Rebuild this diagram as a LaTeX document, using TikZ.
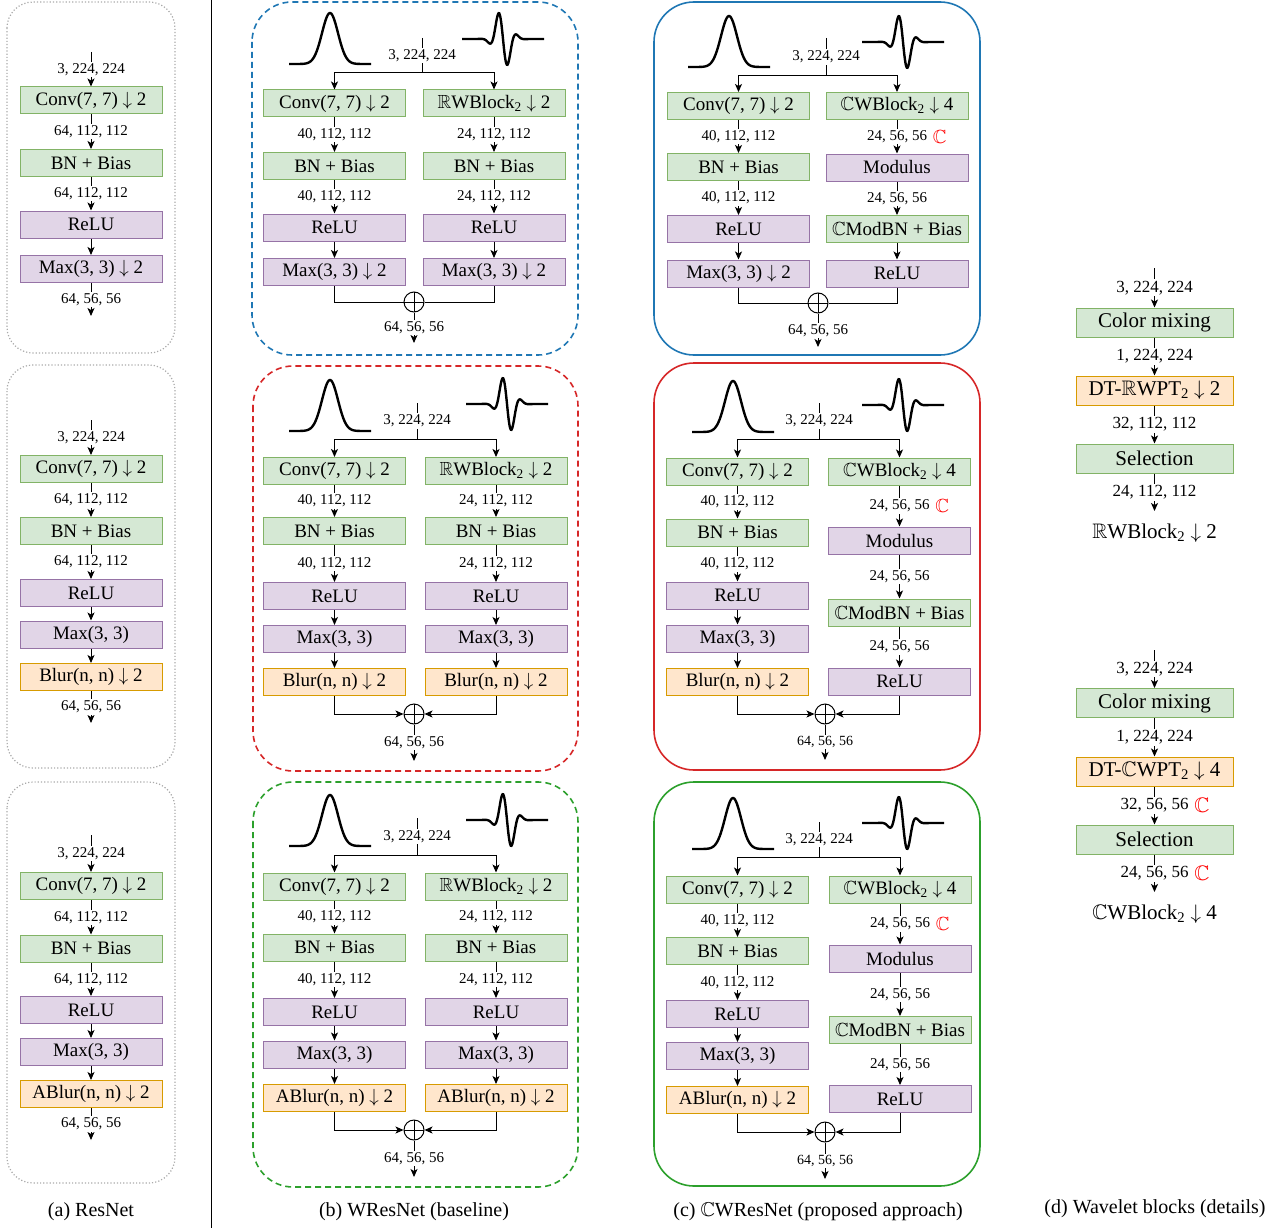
\documentclass[tikz,border=0pt]{standalone}
\usepackage{amssymb}
\usepackage{fontspec}
\setmainfont{Liberation Serif}
\usetikzlibrary{arrows.meta}
\DeclareFontFamily{U}{msb}{}
\DeclareFontShape{U}{msb}{m}{n}{<-> msbm10}{}
\DeclareFontFamily{OMS}{cmsy}{\skewchar\font48 }
\DeclareFontShape{OMS}{cmsy}{m}{n}{<-> cmsy10}{}
\newcommand\fsz[1]{\fontsize{#1}{#1}\selectfont}
\definecolor{gF}{HTML}{D5E8D4}\definecolor{gB}{HTML}{82B366}
\definecolor{pF}{HTML}{E1D5E7}\definecolor{pB}{HTML}{9673A6}
\definecolor{oF}{HTML}{FFE6CC}\definecolor{oB}{HTML}{D79B00}
\definecolor{pblue}{HTML}{1F77B4}\definecolor{pred}{HTML}{D62728}
\definecolor{pgreen}{HTML}{2CA02C}\definecolor{pgray}{HTML}{AAAAAA}
\newcommand\gaus[2]{\draw[curve] plot[domain=-41:41,samples=90,smooth] ({#1+\x},{#2-51*exp(-(\x*\x)/128)});}
\newcommand\wav[2]{\draw[curve] plot[domain=-41:41,samples=140,smooth] ({#1+\x},{#2+32*exp(-(\x*\x)/98)*sin(18*\x)});}
\newcommand\dn{$\downarrow$}
\newcommand\CC{$\mathbb{C}$}
\newcommand\RR{$\mathbb{R}$}
\tikzset{
 bx/.style={draw, line width=1pt, inner sep=0pt, minimum width=142, minimum height=27, font=\fsz{19}},
 gb/.style={bx, draw=gB, fill=gF},
 pb/.style={bx, draw=pB, fill=pF},
 ob/.style={bx, draw=oB, fill=oF},
 db/.style={minimum width=157, minimum height=29, font=\fsz{21}},
 lbl/.style={fill=white, inner sep=1.5pt, font=\fsz{15}},
 lbls/.style={lbl, font=\fsz{14}},
 lbld/.style={lbl, font=\fsz{17}},
 ln/.style={line width=1pt},
 arr/.style={ln, -{Stealth[length=8pt,width=7pt,inset=2pt]}},
 sumc/.style={circle, draw, ln, minimum size=20, inner sep=0pt, path picture={\draw[ln] (path picture bounding box.north) -- (path picture bounding box.south) (path picture bounding box.west) -- (path picture bounding box.east);}},
 cc/.style={text=red, font=\fsz{19}},
 ccd/.style={text=red, font=\fsz{21}},
 curve/.style={line width=2.4pt},
 pan/.style={line width=1.6pt, rounded corners=40},
 pana/.style={line width=1.2pt, rounded corners=26, draw=pgray, dotted},
 captxt/.style={font=\fsz{20}},
}
\begin{document}
\begin{tikzpicture}[x=1pt,y=-1pt]
\useasboundingbox (0,0) rectangle (1284,1228);
\draw[ln] (211,0) -- (211,1228);

% ================= (a) =================
\draw[pana] (7,2) rectangle (175,353);
\node[gb] (a1c) at (91,100.5) {Conv(7, 7) \dn{} 2};
\node[gb] (a1b) at (91,163) {BN + Bias};
\node[pb] (a1r) at (91,224.5) {ReLU};
\node[pb] (a1m) at (91,269) {Max(3, 3) \dn{} 2};
\coordinate (a1i) at (91,52); \coordinate (a1o) at (91,316);
\draw[arr] (a1i) -- node[lbl]{3, 224, 224} (a1c);
\draw[arr] (a1c) -- node[lbl]{64, 112, 112} (a1b);
\draw[arr] (a1b) -- node[lbl]{64, 112, 112} (a1r);
\draw[arr] (a1r) -- (a1m);
\draw[arr] (a1m) -- node[lbl]{64, 56, 56} (a1o);

\draw[pana] (7,365) rectangle (175,768);
\node[gb] (a2c) at (91,469) {Conv(7, 7) \dn{} 2};
\node[gb] (a2b) at (91,531) {BN + Bias};
\node[pb] (a2r) at (91,593) {ReLU};
\node[pb] (a2m) at (91,634.5) {Max(3, 3)};
\node[ob] (a2u) at (91,677) {Blur(n, n) \dn{} 2};
\coordinate (a2i) at (91,420); \coordinate (a2o) at (91,723);
\draw[arr] (a2i) -- node[lbl]{3, 224, 224} (a2c);
\draw[arr] (a2c) -- node[lbl]{64, 112, 112} (a2b);
\draw[arr] (a2b) -- node[lbl]{64, 112, 112} (a2r);
\draw[arr] (a2r) -- (a2m);
\draw[arr] (a2m) -- (a2u);
\draw[arr] (a2u) -- node[lbl]{64, 56, 56} (a2o);

\draw[pana] (7,782) rectangle (175,1183);
\node[gb] (a3c) at (91,886) {Conv(7, 7) \dn{} 2};
\node[gb] (a3b) at (91,948.5) {BN + Bias};
\node[pb] (a3r) at (91,1010) {ReLU};
\node[pb] (a3m) at (91,1052) {Max(3, 3)};
\node[ob] (a3u) at (91,1094) {ABlur(n, n) \dn{} 2};
\coordinate (a3i) at (91,835); \coordinate (a3o) at (91,1140);
\draw[arr] (a3i) -- node[lbl]{3, 224, 224} (a3c);
\draw[arr] (a3c) -- node[lbl]{64, 112, 112} (a3b);
\draw[arr] (a3b) -- node[lbl]{64, 112, 112} (a3r);
\draw[arr] (a3r) -- (a3m);
\draw[arr] (a3m) -- (a3u);
\draw[arr] (a3u) -- node[lbl]{64, 56, 56} (a3o);

% ================= (b) =================
% b1
\draw[pan, draw=pblue, dashed, dash pattern=on 6pt off 4pt] (252,2) rectangle (578,355);
\gaus{330}{64}
\wav{503}{39}
\node[gb] (b1c) at (334.5,103.5) {Conv(7, 7) \dn{} 2};
\node[gb] (b1b) at (334.5,166) {BN + Bias};
\node[pb] (b1r) at (334.5,227.5) {ReLU};
\node[pb] (b1m) at (334.5,272) {Max(3, 3) \dn{} 2};
\node[gb] (b1w) at (494,103.5) {\RR WBlock\textsubscript{2} \dn{} 2};
\node[gb] (b1wb) at (494,166) {BN + Bias};
\node[pb] (b1wr) at (494,227.5) {ReLU};
\node[pb] (b1wm) at (494,272) {Max(3, 3) \dn{} 2};
\node[sumc] (b1s) at (414,302) {};
\coordinate (b1i) at (422,38); \coordinate (b1br) at (422,73); \coordinate (b1o) at (414,343);
\draw[ln] (b1i) -- node[lbl]{3, 224, 224} (b1br);
\draw[arr] (b1br) -| (b1c.north);
\draw[arr] (b1br) -| (b1w.north);
\draw[arr] (b1c) -- node[lbl]{40, 112, 112} (b1b);
\draw[arr] (b1b) -- node[lbl]{40, 112, 112} (b1r);
\draw[arr] (b1r) -- (b1m);
\draw[arr] (b1w) -- node[lbl]{24, 112, 112} (b1wb);
\draw[arr] (b1wb) -- node[lbl]{24, 112, 112} (b1wr);
\draw[arr] (b1wr) -- (b1wm);
\draw[ln] (b1m.south) |- (b1s.west);
\draw[ln] (b1wm.south) |- (b1s.east);
\draw[arr] (b1s) -- node[lbl]{64, 56, 56} (b1o);

% b2
\draw[pan, draw=pred, dashed, dash pattern=on 6pt off 4pt] (253,366) rectangle (578,771);
\gaus{330}{431}
\wav{507}{404}
\node[gb] (b2c) at (334.5,471) {Conv(7, 7) \dn{} 2};
\node[gb] (b2b) at (334.5,531) {BN + Bias};
\node[pb] (b2r) at (334.5,596) {ReLU};
\node[pb] (b2m) at (334.5,639) {Max(3, 3)};
\node[ob] (b2u) at (334.5,682) {Blur(n, n) \dn{} 2};
\node[gb] (b2w) at (496,471) {\RR WBlock\textsubscript{2} \dn{} 2};
\node[gb] (b2wb) at (496,531) {BN + Bias};
\node[pb] (b2wr) at (496,596) {ReLU};
\node[pb] (b2wm) at (496,639) {Max(3, 3)};
\node[ob] (b2wu) at (496,682) {Blur(n, n) \dn{} 2};
\node[sumc] (b2s) at (414,714) {};
\coordinate (b2i) at (417,403); \coordinate (b2br) at (417,439); \coordinate (b2o) at (414,761);
\draw[ln] (b2i) -- node[lbl]{3, 224, 224} (b2br);
\draw[arr] (b2br) -| (b2c.north);
\draw[arr] (b2br) -| (b2w.north);
\draw[arr] (b2c) -- node[lbl]{40, 112, 112} (b2b);
\draw[arr] (b2b) -- node[lbl]{40, 112, 112} (b2r);
\draw[arr] (b2r) -- (b2m);
\draw[arr] (b2m) -- (b2u);
\draw[arr] (b2w) -- node[lbl]{24, 112, 112} (b2wb);
\draw[arr] (b2wb) -- node[lbl]{24, 112, 112} (b2wr);
\draw[arr] (b2wr) -- (b2wm);
\draw[arr] (b2wm) -- (b2wu);
\draw[arr] (b2u.south) |- (b2s.west);
\draw[arr] (b2wu.south) |- (b2s.east);
\draw[arr] (b2s) -- node[lbl]{64, 56, 56} (b2o);

% b3
\draw[pan, draw=pgreen, dashed, dash pattern=on 6pt off 4pt] (253,782) rectangle (578,1187);
\gaus{330}{846}
\wav{507}{820}
\node[gb] (b3c) at (334.5,886.5) {Conv(7, 7) \dn{} 2};
\node[gb] (b3b) at (334.5,947.5) {BN + Bias};
\node[pb] (b3r) at (334.5,1012) {ReLU};
\node[pb] (b3m) at (334.5,1054.5) {Max(3, 3)};
\node[ob] (b3u) at (334.5,1098) {ABlur(n, n) \dn{} 2};
\node[gb] (b3w) at (496,886.5) {\RR WBlock\textsubscript{2} \dn{} 2};
\node[gb] (b3wb) at (496,947.5) {BN + Bias};
\node[pb] (b3wr) at (496,1012) {ReLU};
\node[pb] (b3wm) at (496,1054.5) {Max(3, 3)};
\node[ob] (b3wu) at (496,1098) {ABlur(n, n) \dn{} 2};
\node[sumc] (b3s) at (414,1130) {};
\coordinate (b3i) at (417,818); \coordinate (b3br) at (417,855); \coordinate (b3o) at (414,1177);
\draw[ln] (b3i) -- node[lbl]{3, 224, 224} (b3br);
\draw[arr] (b3br) -| (b3c.north);
\draw[arr] (b3br) -| (b3w.north);
\draw[arr] (b3c) -- node[lbl]{40, 112, 112} (b3b);
\draw[arr] (b3b) -- node[lbl]{40, 112, 112} (b3r);
\draw[arr] (b3r) -- (b3m);
\draw[arr] (b3m) -- (b3u);
\draw[arr] (b3w) -- node[lbl]{24, 112, 112} (b3wb);
\draw[arr] (b3wb) -- node[lbl]{24, 112, 112} (b3wr);
\draw[arr] (b3wr) -- (b3wm);
\draw[arr] (b3wm) -- (b3wu);
\draw[arr] (b3u.south) |- (b3s.west);
\draw[arr] (b3wu.south) |- (b3s.east);
\draw[arr] (b3s) -- node[lbl]{64, 56, 56} (b3o);

% ================= (c) =================
% c1
\draw[pan, draw=pblue] (654,2) rectangle (980,355);
\gaus{729}{67}
\wav{903}{42}
\node[gb] (c1c) at (738.5,106) {Conv(7, 7) \dn{} 2};
\node[gb] (c1b) at (738.5,167) {BN + Bias};
\node[pb] (c1r) at (738.5,229) {ReLU};
\node[pb] (c1m) at (738.5,273.5) {Max(3, 3) \dn{} 2};
\node[gb] (c1w) at (897,106) {\CC WBlock\textsubscript{2} \dn{} 4};
\node[pb] (c1wd) at (897,167.5) {Modulus};
\node[gb] (c1wb) at (897,229) {\CC ModBN + Bias};
\node[pb] (c1wr) at (897,273.5) {ReLU};
\node[sumc] (c1s) at (818,303) {};
\coordinate (c1i) at (826,38); \coordinate (c1br) at (826,76); \coordinate (c1o) at (818,347);
\draw[ln] (c1i) -- node[lbl]{3, 224, 224} (c1br);
\draw[arr] (c1br) -| (c1c.north);
\draw[arr] (c1br) -| (c1w.north);
\draw[arr] (c1c) -- node[lbl]{40, 112, 112} (c1b);
\draw[arr] (c1b) -- node[lbl]{40, 112, 112} (c1r);
\draw[arr] (c1r) -- (c1m);
\draw[arr] (c1w) -- node[lbl, label={[cc]right:\CC}]{24, 56, 56} (c1wd);
\draw[arr] (c1wd) -- node[lbl]{24, 56, 56} (c1wb);
\draw[arr] (c1wb) -- (c1wr);
\draw[ln] (c1m.south) |- (c1s.west);
\draw[ln] (c1wr.south) |- (c1s.east);
\draw[arr] (c1s) -- node[lbl]{64, 56, 56} (c1o);

% c2
\draw[pan, draw=pred] (654,363) rectangle (980,770);
\gaus{733}{432}
\wav{903}{405}
\node[gb] (c2c) at (737.5,471.5) {Conv(7, 7) \dn{} 2};
\node[gb] (c2b) at (737.5,532.5) {BN + Bias};
\node[pb] (c2r) at (737.5,595.5) {ReLU};
\node[pb] (c2m) at (737.5,638.5) {Max(3, 3)};
\node[ob] (c2u) at (737.5,682) {Blur(n, n) \dn{} 2};
\node[gb] (c2w) at (899.5,471.5) {\CC WBlock\textsubscript{2} \dn{} 4};
\node[pb] (c2wd) at (899.5,540.5) {Modulus};
\node[gb] (c2wb) at (899.5,612.5) {\CC ModBN + Bias};
\node[pb] (c2wr) at (899.5,681.5) {ReLU};
\node[sumc] (c2s) at (825,714) {};
\coordinate (c2i) at (819,403); \coordinate (c2br) at (819,439); \coordinate (c2o) at (825,760);
\draw[ln] (c2i) -- node[lbl]{3, 224, 224} (c2br);
\draw[arr] (c2br) -| (c2c.north);
\draw[arr] (c2br) -| (c2w.north);
\draw[arr] (c2c) -- node[lbl]{40, 112, 112} (c2b);
\draw[arr] (c2b) -- node[lbl]{40, 112, 112} (c2r);
\draw[arr] (c2r) -- (c2m);
\draw[arr] (c2m) -- (c2u);
\draw[arr] (c2w) -- node[lbl, label={[cc]right:\CC}]{24, 56, 56} (c2wd);
\draw[arr] (c2wd) -- node[lbl]{24, 56, 56} (c2wb);
\draw[arr] (c2wb) -- node[lbl]{24, 56, 56} (c2wr);
\draw[arr] (c2u.south) |- (c2s.west);
\draw[arr] (c2wr.south) |- (c2s.east);
\draw[arr] (c2s) -- node[lbls]{64, 56, 56} (c2o);

% c3
\draw[pan, draw=pgreen] (654,782) rectangle (980,1186);
\gaus{733}{849}
\wav{903}{823}
\node[gb] (c3c) at (737.5,889.5) {Conv(7, 7) \dn{} 2};
\node[gb] (c3b) at (737.5,951) {BN + Bias};
\node[pb] (c3r) at (737.5,1014) {ReLU};
\node[pb] (c3m) at (737.5,1056) {Max(3, 3)};
\node[ob] (c3u) at (737.5,1100) {ABlur(n, n) \dn{} 2};
\node[gb] (c3w) at (900,889.5) {\CC WBlock\textsubscript{2} \dn{} 4};
\node[pb] (c3wd) at (900,958.5) {Modulus};
\node[gb] (c3wb) at (900,1030) {\CC ModBN + Bias};
\node[pb] (c3wr) at (900,1099) {ReLU};
\node[sumc] (c3s) at (825,1132) {};
\coordinate (c3i) at (819,822); \coordinate (c3br) at (819,857); \coordinate (c3o) at (825,1179);
\draw[ln] (c3i) -- node[lbl]{3, 224, 224} (c3br);
\draw[arr] (c3br) -| (c3c.north);
\draw[arr] (c3br) -| (c3w.north);
\draw[arr] (c3c) -- node[lbl]{40, 112, 112} (c3b);
\draw[arr] (c3b) -- node[lbl]{40, 112, 112} (c3r);
\draw[arr] (c3r) -- (c3m);
\draw[arr] (c3m) -- (c3u);
\draw[arr] (c3w) -- node[lbl, label={[cc]right:\CC}]{24, 56, 56} (c3wd);
\draw[arr] (c3wd) -- node[lbl]{24, 56, 56} (c3wb);
\draw[arr] (c3wb) -- node[lbl]{24, 56, 56} (c3wr);
\draw[arr] (c3u.south) |- (c3s.west);
\draw[arr] (c3wr.south) |- (c3s.east);
\draw[arr] (c3s) -- node[lbls]{64, 56, 56} (c3o);

% ================= (d) =================
\node[gb, db] (d1m) at (1154.5,322.5) {Color mixing};
\node[ob, db] (d1t) at (1154.5,390.5) {DT-\RR WPT\textsubscript{2} \dn{} 2};
\node[gb, db] (d1s) at (1154.5,458.5) {Selection};
\coordinate (d1i) at (1154.5,268); \coordinate (d1o) at (1154.5,511);
\node[font=\fsz{21}] (d1n) at (1154.5,533) {\RR WBlock\textsubscript{2} \dn{} 2};
\draw[arr] (d1i) -- node[lbld]{3, 224, 224} (d1m);
\draw[arr] (d1m) -- node[lbld]{1, 224, 224} (d1t);
\draw[arr] (d1t) -- node[lbld]{32, 112, 112} (d1s);
\draw[arr] (d1s) -- node[lbld]{24, 112, 112} (d1o);

\node[gb, db] (d2m) at (1154.5,703) {Color mixing};
\node[ob, db] (d2t) at (1154.5,771.5) {DT-\CC WPT\textsubscript{2} \dn{} 4};
\node[gb, db] (d2s) at (1154.5,839.5) {Selection};
\coordinate (d2i) at (1154.5,650); \coordinate (d2o) at (1154.5,892);
\node[font=\fsz{21}] (d2n) at (1154.5,914) {\CC WBlock\textsubscript{2} \dn{} 4};
\draw[arr] (d2i) -- node[lbld]{3, 224, 224} (d2m);
\draw[arr] (d2m) -- node[lbld]{1, 224, 224} (d2t);
\draw[arr] (d2t) -- node[lbld, label={[ccd]right:\CC}]{32, 56, 56} (d2s);
\draw[arr] (d2s) -- node[lbld, label={[ccd]right:\CC}]{24, 56, 56} (d2o);

% ================= captions =================
\node[captxt] (capa) at (91,1212) {(a) ResNet};
\node[captxt] (capb) at (414,1212) {(b) WResNet (baseline)};
\node[captxt] (capc) at (818,1212) {(c) \CC WResNet (proposed approach)};
\node[captxt] (capd) at (1155,1209) {(d) Wavelet blocks (details)};
\end{tikzpicture}
\end{document}
